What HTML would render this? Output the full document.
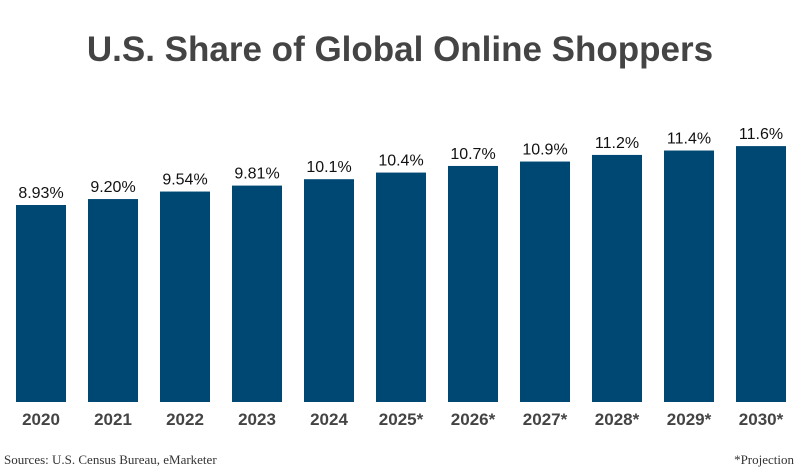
<!DOCTYPE html>
<html><head><meta charset="utf-8"><style>
body{margin:0;width:800px;height:472px;background:#fff;overflow:hidden;font-family:"Liberation Sans",sans-serif}
#title{position:absolute;top:30px;left:0;width:800px;text-align:center;font-size:35px;font-weight:bold;color:#444}
#src{position:absolute;left:4px;top:452px;font-family:"Liberation Serif",serif;font-size:13px;color:#333}
#proj{position:absolute;right:6px;top:452px;font-family:"Liberation Serif",serif;font-size:13px;color:#333}
</style></head><body>
<div id="title">U.S. Share of Global Online Shoppers</div>
<svg id="chart" width="800" height="472" style="position:absolute;left:0;top:0"></svg>
<div id="src">Sources: U.S. Census Bureau, eMarketer</div>
<div id="proj">*Projection</div>
<script>
const categories=["2020","2021","2022","2023","2024","2025*","2026*","2027*","2028*","2029*","2030*"];
const values=[8.93,9.20,9.54,9.81,10.1,10.4,10.7,10.9,11.2,11.4,11.6];
const valueLabels=["8.93%","9.20%","9.54%","9.81%","10.1%","10.4%","10.7%","10.9%","11.2%","11.4%","11.6%"];
const svg=document.getElementById('chart');
const NS="http://www.w3.org/2000/svg";
const base=402, scale=22.06, x0=16, step=72, bw=50;
const xAt=i=>x0+i*step;
const yAt=v=>base-v*scale;
categories.forEach((c,i)=>{
  const r=document.createElementNS(NS,'rect');
  r.setAttribute('x',xAt(i));r.setAttribute('y',yAt(values[i]));
  r.setAttribute('width',bw);r.setAttribute('height',base-yAt(values[i]));
  r.setAttribute('fill','#004874');
  
  
  svg.appendChild(r);
  const t=document.createElementNS(NS,'text');
  t.setAttribute('x',xAt(i)+bw/2);t.setAttribute('y',yAt(values[i])-7);
  t.setAttribute('text-anchor','middle');t.setAttribute('font-size','16');
  t.setAttribute('font-family','Liberation Sans, sans-serif');t.setAttribute('fill','#111');
  t.textContent=valueLabels[i];
  
  
  svg.appendChild(t);
  const l=document.createElementNS(NS,'text');
  l.setAttribute('x',xAt(i)+bw/2);l.setAttribute('y',425);
  l.setAttribute('text-anchor','middle');l.setAttribute('font-size','17');l.setAttribute('font-weight','bold');
  l.setAttribute('font-family','Liberation Sans, sans-serif');l.setAttribute('fill','#444');
  l.textContent=c;
  
  
  svg.appendChild(l);
});
</script>
</body></html>
